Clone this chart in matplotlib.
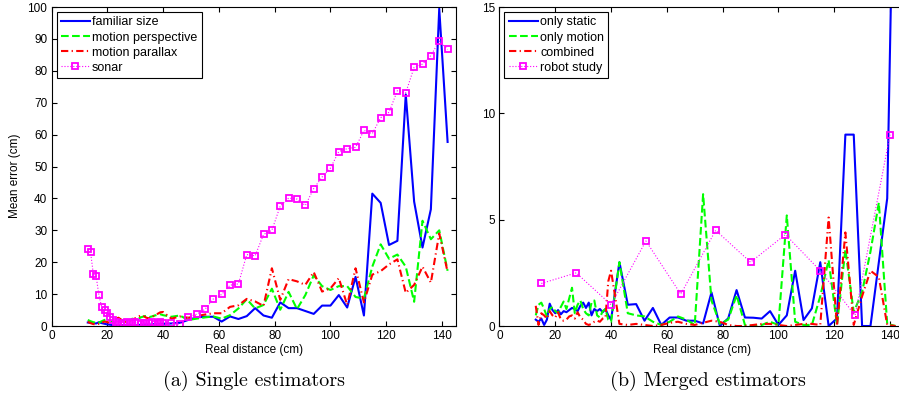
import matplotlib
matplotlib.use("Agg")
import matplotlib.pyplot as plt

# ============================================================
# Data
# ============================================================

# measured distances: 1 cm steps up to 40 cm, 3 cm steps afterwards
dist = [13, 14, 15, 16, 17, 18, 19, 20, 21, 22, 23, 24, 25, 26, 27, 28, 29, 30,
        31, 32, 33, 34, 35, 36, 37, 38, 39, 40,
        43, 46, 49, 52, 55, 58, 61, 64, 67, 70, 73, 76, 79, 82, 85, 88, 91, 94,
        97, 100, 103, 106, 109, 112, 115, 118, 121, 124, 127, 130, 133, 136, 139, 142]

# (a) single estimators
familiar_size = [1.1, 1.0, 0.9, 0.8, 1.2, 0.9, 0.7, 0.5, 0.4, 0.3, 0.2, 0.3, 0.2, 0.3,
                 0.4, 0.3, 0.2, 0.3, 0.4, 0.3, 0.4, 0.5, 0.4, 0.5, 0.6, 0.5, 0.6, 0.7,
                 0.8, 1.0, 1.9, 2.7, 2.9, 2.9, 1.4, 3.0, 2.2, 3.1, 5.6, 3.3, 2.6, 7.4,
                 5.6, 5.6, 4.7, 3.8, 6.4, 6.4, 9.7, 5.8, 15.4, 3.3, 41.5, 38.6, 25.4,
                 26.7, 72.6, 39.0, 24.6, 36.6, 99.5, 57.7]
motion_perspective = [1.9, 1.5, 1.2, 1.0, 1.1, 1.5, 1.9, 2.1, 1.7, 1.2, 0.9, 1.4, 1.9, 1.6,
                      1.4, 1.8, 2.3, 2.0, 2.2, 2.7, 3.0, 3.2, 2.8, 3.0, 3.3, 3.5, 3.7, 3.4,
                      2.9, 3.3, 1.9, 2.3, 2.7, 3.0, 2.3, 3.4, 5.5, 8.4, 5.5, 6.6, 11.7, 5.1,
                      10.7, 5.3, 9.7, 15.9, 12.5, 11.3, 12.5, 12.5, 9.1, 8.6, 18.6, 25.6,
                      21.1, 22.4, 18.6, 7.6, 33.0, 27.2, 30.0, 17.3]
motion_parallax = [1.3, 0.9, 0.6, 0.5, 0.7, 1.0, 1.4, 1.2, 1.0, 1.6, 2.2, 2.6, 2.0, 1.5,
                   1.2, 1.6, 2.0, 2.4, 2.9, 3.3, 3.1, 2.6, 2.4, 2.8, 3.3, 3.8, 4.3, 4.4,
                   2.3, 3.0, 2.6, 3.1, 3.6, 4.0, 4.0, 6.0, 6.5, 8.5, 7.7, 6.3, 18.1, 8.2,
                   14.7, 14.0, 12.9, 16.9, 10.8, 11.8, 15.0, 6.6, 18.1, 7.4, 16.1, 17.2,
                   19.3, 20.9, 10.4, 12.9, 18.6, 13.6, 29.0, 16.9]
sonar = [24.1, 23.1, 16.3, 15.6, 9.6, 5.9, 5.0, 4.0, 2.9, 2.0, 1.2, 0.5, 0.4, 0.8,
         1.2, 0.9, 1.1, 1.3, 0.9, 0.7, 1.1, 0.8, 0.9, 1.2, 0.7, 1.0, 1.3, 1.1,
         0.8, 0.6, 2.7, 3.7, 5.2, 8.5, 9.9, 12.8, 13.2, 22.4, 22.0, 28.7, 30.0, 37.6,
         40.1, 39.8, 37.8, 43.1, 46.7, 49.5, 54.7, 55.6, 56.0, 61.3, 60.3, 65.3,
         67.0, 73.8, 73.1, 81.1, 82.1, 84.8, 89.3, 86.7]

# (b) merged estimators
only_static = [0.3, 0.2, 0.35, 0.05, 0.3, 1.05, 0.75, 0.6, 0.75, 0.55, 0.7, 0.65, 0.75, 0.85,
               0.8, 0.7, 0.95, 1.1, 0.85, 1.1, 0.5, 0.8, 0.7, 0.8, 0.65, 0.8, 0.5, 0.3,
               3.0, 1.0, 1.03, 0.25, 0.85, 0.05, 0.4, 0.4, 0.25, 0.25, 0.12, 1.58, 0.0,
               0.36, 1.69, 0.4, 0.39, 0.35, 0.7, 0.05, 0.5, 2.6, 0.28, 0.83, 3.0, 0.0,
               0.36, 9.0, 9.0, 0.0, 0.0, 3.0, 6.0, 27.0]
only_motion = [0.5, 1.0, 1.1, 0.8, 0.45, 0.8, 0.9, 0.7, 0.6, 0.9, 1.15, 0.8, 1.3, 1.8,
               0.6, 1.0, 1.2, 0.8, 0.6, 0.5, 1.1, 1.2, 0.5, 0.4, 0.7, 0.8, 0.3, 0.2,
               3.0, 0.6, 0.5, 0.45, 0.2, 0.05, 0.2, 0.45, 0.3, 0.05, 6.2, 1.2, 0.1,
               0.3, 1.45, 0.05, 0.0, 0.05, 0.2, 0.05, 5.2, 0.2, 0.05, 0.05, 1.4, 3.1,
               0.05, 3.6, 0.65, 1.6, 3.5, 5.8, 0.1, 0.0]
combined = [0.95, 0.05, 0.6, 0.5, 0.35, 0.7, 0.5, 0.4, 0.65, 0.3, 0.25, 0.3, 0.45, 0.5,
            0.35, 0.65, 0.4, 0.3, 0.1, 0.05, 0.1, 0.2, 0.25, 0.2, 0.35, 0.4, 2.1, 2.6,
            0.1, 0.05, 0.1, 0.05, 0.0, 0.05, 0.15, 0.2, 0.1, 0.05, 0.15, 0.25, 0.2,
            0.05, 0.0, 0.0, 0.05, 0.1, 0.1, 0.05, 0.0, 0.05, 0.1, 0.1, 0.05, 5.1,
            0.0, 4.4, 0.05, 1.4, 2.6, 2.3, 0.05, 0.0]
robot_dist = [15, 27.5, 40, 52.5, 65, 77.5, 90, 102.5, 115, 127.5, 140]
robot_study = [2.0, 2.5, 1.0, 4.0, 1.5, 4.5, 3.0, 4.3, 2.6, 0.5, 9.0]

labels_a = ["familiar size", "motion perspective", "motion parallax", "sonar"]
labels_b = ["only static", "only motion", "combined", "robot study"]

# ============================================================
# Styles (MATLAB look)
# ============================================================

plt.rcParams["font.family"] = ["Liberation Sans", "DejaVu Sans"]

STYLES = [
    dict(color=(0, 0, 1), lw=1.5, ls="-"),
    dict(color=(0, 1, 0), lw=1.5, ls="--"),
    dict(color=(1, 0, 0), lw=1.5, ls=(0, (3.5, 1.6, 0.6, 1.6))),
    dict(color=(1, 0, 1), lw=0.8, ls=":", marker="s", ms=4.5, mfc="none", mew=1.3),
]
FS = 8.5


def style_axes(ax, ymax, yticks):
    ax.set_xlim(0, 145)
    ax.set_ylim(0, ymax)
    ax.set_xticks([0, 20, 40, 60, 80, 100, 120, 140])
    ax.set_yticks(yticks)
    ax.tick_params(direction="in", top=True, right=True, length=3.5, width=0.8,
                   labelsize=FS, pad=3)
    for sp in ax.spines.values():
        sp.set_linewidth(0.8)
    ax.set_xlabel("Real distance (cm)", fontsize=FS, labelpad=1)
    leg = ax.legend(loc="upper left", fontsize=9, fancybox=False, framealpha=1,
                    edgecolor="black", borderpad=0.35, labelspacing=0.25,
                    handlelength=2.3, handletextpad=0.2, borderaxespad=0.4,
                    numpoints=1)
    leg.get_frame().set_linewidth(0.8)


fig = plt.figure(figsize=(8.99, 4.01), dpi=100)

ax_a = fig.add_axes([0.0573, 0.187, 0.4499, 0.7955])
ax_b = fig.add_axes([0.5556, 0.187, 0.4499, 0.7955])

for ys, lab, st in zip([familiar_size, motion_perspective, motion_parallax],
                       labels_a[:3], STYLES[:3]):
    ax_a.plot(dist, ys, label=lab, **st)
ax_a.plot(dist, sonar, label=labels_a[3], **STYLES[3])
style_axes(ax_a, 100, list(range(0, 101, 10)))
ax_a.set_ylabel("Mean error (cm)", fontsize=FS)
ax_a.yaxis.set_label_coords(-0.075, 0.47)

for ys, lab, st in zip([only_static, only_motion, combined], labels_b[:3], STYLES[:3]):
    ax_b.plot(dist, ys, label=lab, **st)
ax_b.plot(robot_dist, robot_study, label=labels_b[3], **STYLES[3])
style_axes(ax_b, 15, [0, 5, 10, 15])

# subfigure captions
fig.text(0.282, 0.05, "(a) Single estimators", family="cmr10", fontsize=14.5,
         ha="center", va="center")
fig.text(0.788, 0.05, "(b) Merged estimators", family="cmr10", fontsize=14.5,
         ha="center", va="center")

fig.savefig("out.png", dpi=100)
